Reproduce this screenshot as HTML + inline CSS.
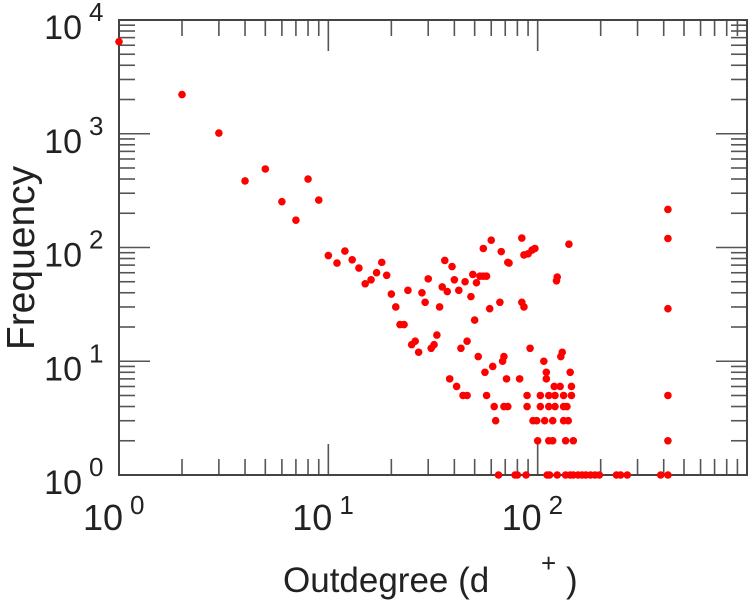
<!DOCTYPE html>
<html><head><meta charset="utf-8"><style>
html,body{margin:0;padding:0;background:#fff;}
svg{display:block;font-family:"Liberation Sans",sans-serif;}
</style></head><body>
<svg id="chart" width="749" height="600" viewBox="0 0 749 600" xmlns="http://www.w3.org/2000/svg">
<g id="ticks"></g>
<rect x="119" y="20" width="628" height="455" fill="none" stroke="#444" stroke-width="2"/>
<g id="labels" fill="#222"></g>
<g id="points" fill="#ff0000"></g>
<text x="34" y="258" font-size="39" fill="#222" text-anchor="middle" transform="rotate(-90 34 258)">Frequency</text>
<text x="283" y="592" font-size="35" fill="#222">Outdegree (d</text>
<text x="541" y="572" font-size="26" fill="#222">+</text>
<text x="566" y="592" font-size="35" fill="#222">)</text>
</svg>
<script>
const xs = [1,2,3,4,5,6,7,8,9,10,11,12,13,14,15,16,17,18,19,20,21,22,23,24,25,26,27,28,29,30,31,32,33,34,35,36,37,38,39,40,41,42,43,44,46,45,46,48,49,50,51,52,53,55,57,55,56,57,59,60,61,62,63,66,67,68,69,69,72,71,72,73,82,84,86,84,86,89,89,90,92,94,97,95,99,100,103,103,107,108,110,110,113,113,113,118,118,120,128,121,121,123,124,129,131,133,133,133,136,138,140,141,143,145,145,148,419,419,419,419,419,65,78,80,88,111,114,124,136,143,148,156,163,170,179,188,197,238,249,268,387,419];
const ys = [6450,2210,1015,385,490,253,174,400,261,85,73,93,78,66,48,52,60,74,57,39,30,21,21,42,14,15,12,40,33,53,13,14,17,30,45,77,41,7,68,52,6,42,13,5,5,50,15,37,58,23,49,11,56,56,56,98,8,5,29,116,9,4,3,33,92,10,11,4,4,7,74,73,7,33,30,121,86,5,4,88,13,95,98,3,3,2,5,4,10,3,8,7,5,4,2,3,2,6,6,5,4,51,55,11,12,5,4,3,2,4,3,107,8,6,5,2,216,120,29,5,2,1,1,1,1,1,1,1,1,1,1,1,1,1,1,1,1,1,1,1,1,1];
const xTickExps = [0,1,2];
const yTickExps = [0,1,2,3,4];
const NS = "http://www.w3.org/2000/svg";
const L=119,R=747,T=20,B=475;
const sx = v => L + (Math.log10(v)-0)/3*(R-L);
const sy = v => B - (Math.log10(v)-0)/4*(B-T);
const ticks = document.getElementById('ticks');
function line(x1,y1,x2,y2,name){
  const l=document.createElementNS(NS,'line');
  l.setAttribute('x1',x1);l.setAttribute('y1',y1);l.setAttribute('x2',x2);l.setAttribute('y2',y2);
  l.setAttribute('stroke','#555');l.setAttribute('stroke-width','1.6');
  
  
  ticks.appendChild(l);
}
for(let e=0;e<3;e++){for(let m=1;m<=9;m++){
  const x=sx(m*Math.pow(10,e)); const len=m===1?31:16;
  line(x,B,x,B-len,'x-tick');
  line(x,T,x,T+len,'x-tick-top');
}}
for(let e=0;e<4;e++){for(let m=1;m<=9;m++){
  const y=sy(m*Math.pow(10,e)); const len=m===1?31:16;
  line(L,y,L+len,y,'y-tick');
  line(R,y,R-len,y,'y-tick-right');
}}
const labels=document.getElementById('labels');
function lab(x,y,t,size,anchor,name){
  const tx=document.createElementNS(NS,'text');
  tx.setAttribute('x',x);tx.setAttribute('y',y);tx.setAttribute('font-size',size);
  tx.setAttribute('text-anchor',anchor);tx.textContent=t;
  
  
  labels.appendChild(tx);
}
xTickExps.forEach(e=>{
  const x=sx(Math.pow(10,e));
  lab(x+4,530,'10',36,'end','x-tick-label');
  lab(x+11,514,String(e),26,'start','x-tick-exponent');
});
yTickExps.forEach(e=>{
  const y=sy(Math.pow(10,e));
  lab(82,y+19,'10',34,'end','y-tick-label');
  lab(89,y+1,String(e),26,'start','y-tick-exponent');
});
const pts=document.getElementById('points');
xs.forEach((xv,i)=>{
  const c=document.createElementNS(NS,'circle');
  c.setAttribute('cx',sx(xv));c.setAttribute('cy',sy(ys[i]));c.setAttribute('r',3.8);
  
  
  pts.appendChild(c);
});
</script>
</body></html>
